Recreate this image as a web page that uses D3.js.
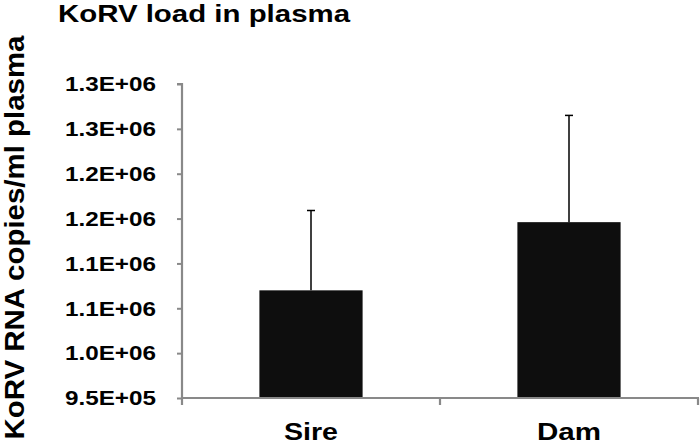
<!DOCTYPE html>
<html>
<head>
<meta charset="utf-8">
<script src="https://cdn.jsdelivr.net/npm/d3@7"></script>
<style>
  html, body { margin: 0; padding: 0; background: #fff; }
  svg { display: block; }
  text { font-family: "Liberation Sans", Arial, Helvetica, sans-serif; font-weight: bold; fill: #000; }
</style>
</head>
<body>
<svg id="chart" width="700" height="445"></svg>
<script>
// ---- data ----
const categories = ["Sire", "Dam"];
const means = [1070000, 1146000];
const errors = [89000, 119000];
const tickValues = [950000, 1000000, 1050000, 1100000, 1150000, 1200000, 1250000, 1300000];
const tickLabels = ["9.5E+05", "1.0E+06", "1.1E+06", "1.1E+06", "1.2E+06", "1.2E+06", "1.3E+06", "1.3E+06"];
const titleText = "KoRV load in plasma";
const yLabelText = "KoRV RNA copies/ml plasma";

// ---- layout ----
const svg = d3.select("#chart");
const axisColor = "#898989";
const x0 = 182, x1 = 698, yTop = 84, yBot = 398;

const x = d3.scaleBand().domain(categories).range([x0, x1]).paddingInner(0.6).paddingOuter(0.3);
const xFull = d3.scaleBand().domain(categories).range([x0, x1]).padding(0);
const y = d3.scaleLinear().domain([950000, 1300000]).range([yBot, yTop]);

// bars
svg.append("g").selectAll("rect").data(categories).join("rect")
  .attr("x", d => x(d))
  .attr("y", (d, i) => y(means[i]))
  .attr("width", x.bandwidth())
  .attr("height", (d, i) => yBot - y(means[i]))
  .attr("fill", "#0e0e0e");

// error bars (upper only)
const eb = svg.append("g").attr("stroke", "#000").attr("stroke-width", 1.5);
categories.forEach((c, i) => {
  const cx = x(c) + x.bandwidth() / 2;
  eb.append("line").attr("x1", cx).attr("x2", cx)
    .attr("y1", y(means[i])).attr("y2", y(means[i] + errors[i]));
  eb.append("line").attr("x1", cx - 4).attr("x2", cx + 4)
    .attr("y1", y(means[i] + errors[i])).attr("y2", y(means[i] + errors[i]));
});

// y axis
const yAxis = d3.axisLeft(y).tickValues(tickValues).tickSize(5).tickPadding(21)
  .tickFormat((d, i) => tickLabels[i]);
const gy = svg.append("g").attr("transform", `translate(${x0},0)`).call(yAxis);
gy.select(".domain").attr("stroke", axisColor).attr("stroke-width", 2.2)
  .attr("d", `M-5,${yTop}H0V${yBot}`);
gy.selectAll(".tick line").attr("stroke", axisColor).attr("stroke-width", 2);
gy.selectAll(".tick text")
  .attr("font-size", 21)
  .attr("font-family", "Liberation Sans, Arial, sans-serif")
  .attr("font-weight", "bold")
  .attr("fill", "#000")
  .attr("textLength", 91)
  .attr("lengthAdjust", "spacingAndGlyphs");

// x axis
const gx = svg.append("g").attr("transform", `translate(0,${yBot})`);
gx.append("line").attr("x1", x0).attr("x2", x1 + 1).attr("y1", 0).attr("y2", 0)
  .attr("stroke", axisColor).attr("stroke-width", 2.2);
const xTickPos = [x0].concat(categories.map(c => xFull(c) + xFull.bandwidth()));
gx.selectAll("line.xt").data(xTickPos).join("line").attr("class", "xt")
  .attr("x1", d => d).attr("x2", d => d).attr("y1", 0).attr("y2", 7)
  .attr("stroke", axisColor).attr("stroke-width", 2.2);
gx.selectAll("text").data(categories).join("text")
  .attr("x", d => x(d) + x.bandwidth() / 2)
  .attr("y", 42)
  .attr("text-anchor", "middle")
  .attr("font-size", 24)
  .attr("textLength", d => d === "Sire" ? 54 : 64)
  .attr("lengthAdjust", "spacingAndGlyphs")
  .text(d => d);

// title
svg.append("text").attr("x", 58).attr("y", 22)
  .attr("font-size", 24.5)
  .attr("textLength", 292).attr("lengthAdjust", "spacingAndGlyphs")
  .text(titleText);

// y label
svg.append("text")
  .attr("transform", "translate(24,237.5) rotate(-90)")
  .attr("text-anchor", "middle")
  .attr("font-size", 28)
  .attr("textLength", 404).attr("lengthAdjust", "spacingAndGlyphs")
  .text(yLabelText);
</script>
</body>
</html>
